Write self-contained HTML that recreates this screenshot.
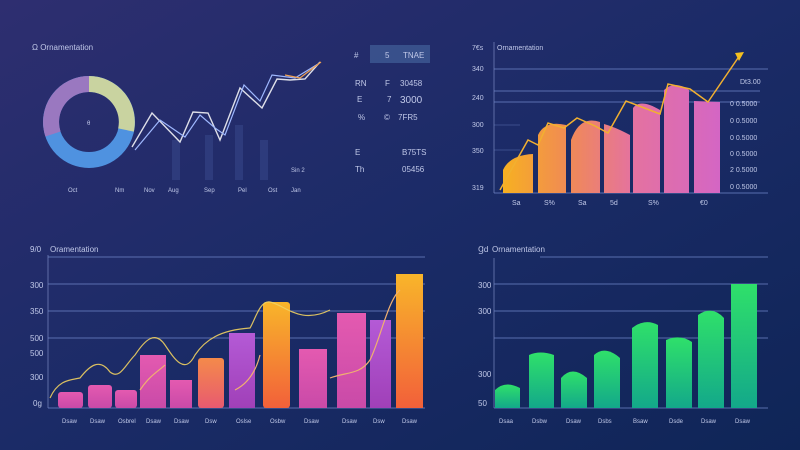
<!DOCTYPE html>
<html><head><meta charset="utf-8"><style>
html,body{margin:0;padding:0;width:800px;height:450px;overflow:hidden}
svg{display:block}
text{font-family:"Liberation Sans",sans-serif;fill:#c0c8e8}
</style></head><body>
<svg width="800" height="450" viewBox="0 0 800 450" xmlns="http://www.w3.org/2000/svg">
<defs>
<linearGradient id="bg" x1="0" y1="0" x2="1" y2="1">
<stop offset="0" stop-color="#2e2e70"/><stop offset="0.5" stop-color="#1b2b67"/><stop offset="1" stop-color="#0f2557"/>
</linearGradient>
<linearGradient id="tr" gradientUnits="userSpaceOnUse" x1="503" y1="0" x2="720" y2="0">
<stop offset="0" stop-color="#f7b021"/><stop offset="0.3" stop-color="#f08a55"/><stop offset="0.6" stop-color="#e472a0"/><stop offset="1" stop-color="#d466c4"/>
</linearGradient>
<linearGradient id="pk" x1="0" y1="0" x2="0" y2="1"><stop offset="0" stop-color="#e45ab0"/><stop offset="1" stop-color="#c94aa8"/></linearGradient>
<linearGradient id="pu" x1="0" y1="0" x2="0" y2="1"><stop offset="0" stop-color="#b45ad6"/><stop offset="1" stop-color="#a040b8"/></linearGradient>
<linearGradient id="or" x1="0" y1="0" x2="0" y2="1"><stop offset="0" stop-color="#f48a4a"/><stop offset="1" stop-color="#e85a70"/></linearGradient>
<linearGradient id="yo" x1="0" y1="0" x2="0" y2="1"><stop offset="0" stop-color="#f8b52a"/><stop offset="1" stop-color="#f2603a"/></linearGradient>
<linearGradient id="gr" x1="0" y1="0" x2="0" y2="1"><stop offset="0" stop-color="#2fe06a"/><stop offset="1" stop-color="#13a88a"/></linearGradient>
</defs>
<rect width="800" height="450" fill="url(#bg)"/>

<!-- top-left -->
<text x="32" y="50" font-size="8">Ω Ornamentation</text>
<g transform="translate(89,122)">
<circle r="38" fill="none" stroke="#4f92e0" stroke-width="16"/>
<path d="M0,-38 A38,38 0 0 1 37,8" fill="none" stroke="#c9d3a0" stroke-width="16"/>
<path d="M-36,12 A38,38 0 0 1 0,-38" fill="none" stroke="#9a78c0" stroke-width="16"/>
<text x="-2" y="3" font-size="6">θ</text>
</g>
<g fill="#3a4a8e" opacity="0.5">
<rect x="172" y="140" width="8" height="40"/><rect x="205" y="135" width="8" height="45"/><rect x="235" y="125" width="8" height="55"/><rect x="260" y="140" width="8" height="40"/>
</g>
<path d="M132,147 L152,113 L180,142 L193,112 L208,113 L220,140 L240,88 L262,108 L277,79 L290,80 L305,79 L320,62" fill="none" stroke="#ffffff" stroke-width="1.4" opacity="0.85"/>
<path d="M135,150 L160,120 L185,137 L200,115 L215,128 L225,135 L244,85 L260,101 L272,75 L295,78 L318,64" fill="none" stroke="#9fb8ff" stroke-width="1.2"/>
<path d="M285,75 L300,78 L321,62" fill="none" stroke="#f0a050" stroke-width="1.2"/>
<g font-size="6"><text x="68" y="192">Oct</text><text x="115" y="192">Nm</text><text x="144" y="192">Nov</text><text x="168" y="192">Aug</text><text x="204" y="192">Sep</text><text x="238" y="192">Pel</text><text x="268" y="192">Ost</text><text x="291" y="192">Jan</text><text x="291" y="172">Sin 2</text></g>
<rect x="370" y="45" width="60" height="18" fill="#3e5a94" opacity="0.8"/>
<g font-size="8"><text x="354" y="58">#</text><text x="385" y="58">5</text><text x="403" y="58">TNAE</text>
<text x="355" y="86">RN</text><text x="385" y="86">F</text><text x="400" y="86">30458</text>
<text x="357" y="102">E</text><text x="387" y="102">7</text><text x="400" y="103" font-size="10">3000</text>
<text x="358" y="120">%</text><text x="384" y="120">©</text><text x="398" y="120">7FR5</text>
<text x="355" y="155">E</text><text x="402" y="155">B75TS</text>
<text x="355" y="172">Th</text><text x="402" y="172">05456</text></g>

<!-- top-right -->
<g font-size="7"><text x="472" y="50">7€s</text><text x="497" y="50">Ornamentation</text>
<text x="472" y="71">340</text><text x="472" y="100">240</text><text x="472" y="127">300</text><text x="472" y="153">350</text><text x="472" y="190">319</text></g>
<line x1="494" y1="42" x2="494" y2="193" stroke="#8a9ad0" stroke-width="0.6"/>
<g stroke="#6f86c8" stroke-width="0.8"><line x1="494" y1="69" x2="768" y2="69"/><line x1="494" y1="91" x2="760" y2="91"/><line x1="494" y1="102" x2="760" y2="102"/><line x1="494" y1="125" x2="520" y2="125" opacity=".5"/><line x1="494" y1="150" x2="520" y2="150" opacity=".5"/><line x1="494" y1="193" x2="768" y2="193"/></g>
<g fill="url(#tr)">
<path d="M503,193 L503,170 Q510,155 533,154 L533,193Z"/>
<path d="M538,193 L538,135 Q545,120 566,125 L566,193Z"/>
<path d="M571,193 L571,140 Q580,115 600,122 L600,193Z"/>
<path d="M604,193 L604,124 Q615,127 630,135 L630,193Z"/>
<path d="M633,193 L633,108 Q640,98 660,110 L660,193Z"/>
<path d="M664,193 L664,90 Q675,80 689,90 L689,193Z"/>
<path d="M694,193 L694,101 L720,102 L720,193Z"/>
</g>
<path d="M500,190 L528,140 L538,145 L548,123 L564,128 L577,118 L595,126 L608,133 L626,101 L660,114 L668,84 L690,89 L708,102 L740,55" fill="none" stroke="#f2b030" stroke-width="1.5"/>
<path d="M735,53 L744,52 L739,61Z" fill="#f4c020"/>
<g font-size="7"><text x="512" y="205">Sa</text><text x="544" y="205">S%</text><text x="578" y="205">Sa</text><text x="610" y="205">5d</text><text x="648" y="205">S%</text><text x="700" y="205">€0</text>
<text x="740" y="84">Dt3.00</text><text x="730" y="106">0 0.5000</text><text x="730" y="123">0 0.5000</text><text x="730" y="140">0 0.5000</text><text x="730" y="156">0 0.5000</text><text x="730" y="172">2 0.5000</text><text x="730" y="189">0 0.5000</text></g>

<!-- bottom-left -->
<g font-size="8"><text x="30" y="252">9/0</text><text x="50" y="252">Oramentation</text>
<text x="30" y="288">300</text><text x="30" y="314">350</text><text x="30" y="341">500</text><text x="30" y="356">500</text><text x="30" y="380">300</text><text x="33" y="406">0g</text></g>
<line x1="48" y1="255" x2="48" y2="408" stroke="#8a9ad0" stroke-width="0.6"/>
<g stroke="#6f86c8" stroke-width="0.8"><line x1="48" y1="257" x2="425" y2="257"/><line x1="48" y1="284" x2="425" y2="284"/><line x1="48" y1="311" x2="425" y2="311"/><line x1="48" y1="338" x2="425" y2="338"/><line x1="48" y1="408" x2="425" y2="408"/></g>
<rect x="58" y="392" width="25" height="16" rx="3" fill="url(#pk)"/>
<rect x="88" y="385" width="24" height="23" rx="3" fill="url(#pk)"/>
<rect x="115" y="390" width="22" height="18" rx="3" fill="url(#pk)"/>
<rect x="140" y="355" width="26" height="53" fill="url(#pk)"/>
<rect x="170" y="380" width="22" height="28" fill="url(#pk)"/>
<rect x="198" y="358" width="26" height="50" rx="3" fill="url(#or)"/>
<rect x="229" y="333" width="26" height="75" fill="url(#pu)"/>
<rect x="263" y="302" width="27" height="106" rx="3" fill="url(#yo)"/>
<rect x="299" y="349" width="28" height="59" fill="url(#pk)"/>
<rect x="337" y="313" width="29" height="95" fill="url(#pk)"/>
<rect x="370" y="320" width="21" height="88" fill="url(#pu)"/>
<rect x="396" y="274" width="27" height="134" fill="url(#yo)"/>
<path d="M50,398 C58,380 70,380 80,378 C90,365 100,358 110,372 C120,380 125,365 135,355 C145,340 155,330 165,345 C175,360 185,375 195,355 C205,340 220,330 250,328 C255,320 260,300 270,302 C285,305 300,325 330,310" fill="none" stroke="#f0d060" stroke-width="1.2" opacity="0.9"/>
<path d="M140,390 C150,375 160,370 165,365 M235,390 C245,385 255,375 260,355 M330,378 C345,372 360,375 370,360 C380,340 388,300 400,290" fill="none" stroke="#f0b070" stroke-width="1.2"/>
<g font-size="6"><text x="62" y="423">Dsaw</text><text x="90" y="423">Dsaw</text><text x="118" y="423">Osbrel</text><text x="146" y="423">Dsaw</text><text x="174" y="423">Dsaw</text><text x="205" y="423">Dsw</text><text x="236" y="423">Oslse</text><text x="270" y="423">Osbw</text><text x="304" y="423">Dsaw</text><text x="342" y="423">Dsaw</text><text x="373" y="423">Dsw</text><text x="402" y="423">Dsaw</text></g>

<!-- bottom-right -->
<g font-size="8"><text x="478" y="252">Ɡd</text><text x="492" y="252">Ornamentation</text>
<text x="478" y="288">300</text><text x="478" y="314">300</text><text x="478" y="377">300</text><text x="478" y="406">50</text></g>
<line x1="494" y1="258" x2="494" y2="408" stroke="#8a9ad0" stroke-width="0.6"/>
<g stroke="#6f86c8" stroke-width="0.8"><line x1="540" y1="257" x2="768" y2="257"/><line x1="494" y1="284" x2="768" y2="284"/><line x1="494" y1="311" x2="768" y2="311"/><line x1="494" y1="338" x2="768" y2="338"/><line x1="494" y1="408" x2="768" y2="408"/></g>
<g fill="url(#gr)">
<path d="M495,408 L495,390 Q505,380 520,388 L520,408Z"/>
<path d="M529,408 L529,355 Q540,350 554,355 L554,408Z"/>
<path d="M561,408 L561,378 Q572,365 587,378 L587,408Z"/>
<path d="M594,408 L594,355 Q605,345 620,358 L620,408Z"/>
<path d="M632,408 L632,328 Q645,318 658,325 L658,408Z"/>
<path d="M666,408 L666,340 Q680,334 692,342 L692,408Z"/>
<path d="M698,408 L698,315 Q712,305 724,318 L724,408Z"/>
<rect x="731" y="284" width="26" height="124"/>
</g>
<g font-size="6"><text x="499" y="423">Dsaa</text><text x="532" y="423">Dsbw</text><text x="566" y="423">Dsaw</text><text x="598" y="423">Dsbs</text><text x="633" y="423">Bsaw</text><text x="669" y="423">Dsde</text><text x="701" y="423">Dsaw</text><text x="735" y="423">Dsaw</text></g>
</svg>
</body></html>
